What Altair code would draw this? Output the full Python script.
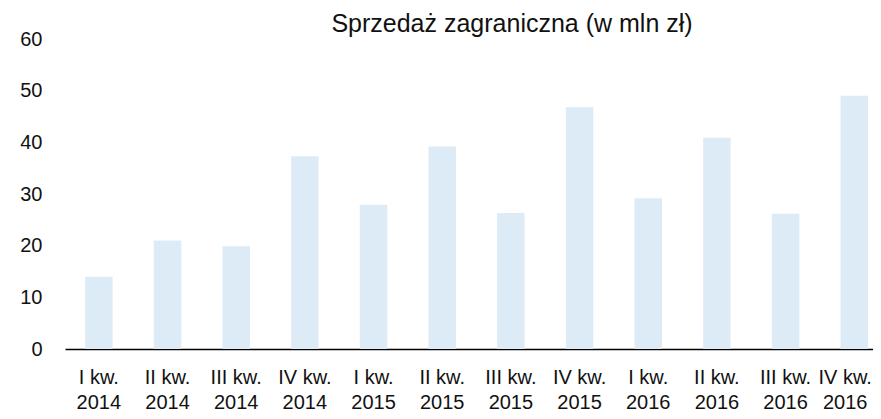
import altair as alt
import pandas as pd

quarters = ["I kw.", "II kw.", "III kw.", "IV kw."] * 3
years = ["2014"] * 4 + ["2015"] * 4 + ["2016"] * 4
labels = [f"{q}\n{y}" for q, y in zip(quarters, years)]
values = [14.0, 21.0, 19.9, 37.3, 27.9, 39.2, 26.3, 46.8, 29.2, 40.9, 26.2, 49.0]

df = pd.DataFrame({"okres": labels, "sprzedaz": values})

FONT = "Liberation Sans"

chart = alt.Chart(df).mark_bar(color="#DDEBF7").encode(
    x=alt.X(
        "okres:N",
        sort=labels,
        title=None,
        scale=alt.Scale(paddingInner=0.6, paddingOuter=0.183, align=0.8),
        axis=alt.Axis(
            labelAngle=0,
            labelExpr="split(datum.label, '\\n')",
            labelLineHeight=25,
            labelFontSize=20,
            labelFont=FONT,
            labelColor="#111111",
            labelPadding=18,
            labelOffset={
                "condition": {
                    "test": "slice(datum.value, 0, 2) === 'IV' && slice(datum.value, -4) === '2016'",
                    "value": -9,
                },
                "value": 0,
            },
            ticks=False,
            domainColor="#000000",
            domainWidth=1.5,
        ),
    ),
    y=alt.Y(
        "sprzedaz:Q",
        title=None,
        scale=alt.Scale(domain=[0, 60]),
        axis=alt.Axis(
            values=[0, 10, 20, 30, 40, 50, 60],
            grid=False,
            domain=False,
            ticks=False,
            labelFontSize=20,
            labelFont=FONT,
            labelColor="#111111",
            labelPadding=23,
        ),
    ),
).properties(
    width=808,
    height=310,
    title=alt.TitleParams(
        "Sprzedaż zagraniczna (w mln zł)",
        font=FONT,
        fontSize=25,
        fontWeight="normal",
        color="#111111",
        anchor="middle",
        dx=43,
        dy=15,
        offset=7,
    ),
    autosize=alt.AutoSizeParams(type="none"),
    padding={"left": 57, "top": 31, "right": 0, "bottom": 62},
).configure_view(stroke=None)

chart.save("out.html", embed_options={"renderer": "svg", "actions": False})
